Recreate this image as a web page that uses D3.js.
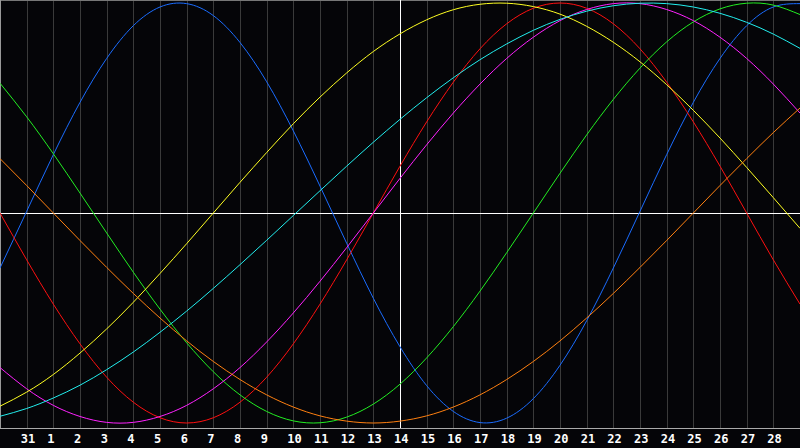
<!DOCTYPE html>
<head>
<meta charset="utf-8">
<title>Biorhythm</title>
<script src="https://cdnjs.cloudflare.com/ajax/libs/d3/7.8.5/d3.min.js"></script>
<style>
  body { margin:0; background:#050508; }
  svg { display:block; }
</style>
</head>
<body>
<script>
// day labels, one per column (first and last are not printed)
var days = ["30","31","1","2","3","4","5","6","7","8","9","10","11","12","13","14",
            "15","16","17","18","19","20","21","22","23","24","25","26","27","28","29"];
var todayIndex = 15;

// cycle values in percent for each day
var blue    = [-26.2,0.8,27.8,52.7,73.6,89.2,98.1,99.7,94.0,81.2,62.5,39.1,12.8,-14.4,-40.6,-63.7,-82.2,-94.5,-99.8,-97.7,-88.4,-72.5,-51.3,-26.2,0.8,27.8,52.7,73.6,89.2,98.1,99.7];
var red     = [0,-22.3,-43.4,-62.3,-78.2,-90.1,-97.5,-100,-97.5,-90.1,-78.2,-62.3,-43.4,-22.3,0,22.3,43.4,62.3,78.2,90.1,97.5,100,97.5,90.1,78.2,62.3,43.4,22.3,0,-22.3,-43.4];
var green   = [61.8,45.8,28.2,9.5,-9.5,-28.2,-45.8,-61.8,-75.6,-86.6,-94.5,-99.0,-99.9,-97.2,-91.0,-81.5,-69.0,-54.1,-37.2,-18.9,0,18.9,37.2,54.1,69.0,81.5,91.0,97.2,99.9,99.0,94.5];
var magenta = [-73.6,-83.7,-91.6,-96.9,-99.7,-99.7,-96.9,-91.6,-83.7,-73.6,-61.4,-47.6,-32.5,-16.5,0,16.5,32.5,47.6,61.4,73.6,83.7,91.6,96.9,99.7,99.7,96.9,91.6,83.7,73.6,61.4,47.6];
var yellow  = [-92.0,-85.3,-76.9,-66.7,-55.2,-42.5,-28.8,-14.6,0,14.6,28.8,42.5,55.2,66.7,76.9,85.3,92.0,96.8,99.4,99.9,98.3,94.7,88.9,81.3,72.0,61.1,48.9,35.7,21.7,7.3,-7.3];
var cyan    = [-96.8,-93.1,-88.1,-82.0,-74.6,-66.2,-56.8,-46.7,-35.9,-24.6,-13.0,-1.2,10.6,22.3,33.7,44.6,54.9,64.4,73.0,80.5,87.0,92.2,96.1,98.7,99.9,99.7,98.1,95.1,90.8,85.2,78.4];
var orange  = [25.9,13.1,0,-13.1,-25.9,-38.3,-50,-60.9,-70.7,-79.3,-86.6,-92.4,-96.6,-99.1,-100,-99.1,-96.6,-92.4,-86.6,-79.3,-70.7,-60.9,-50,-38.3,-25.9,-13.1,0,13.1,25.9,38.3,50];

var series = [
  {values: blue,    color: "#1a6cff"},
  {values: red,     color: "#ff1010"},
  {values: green,   color: "#22ee22"},
  {values: magenta, color: "#ff22ff"},
  {values: yellow,  color: "#ffff22"},
  {values: cyan,    color: "#22eeee"},
  {values: orange,  color: "#ff8010"}
];

var W = 800, H = 448;
var svg = d3.select("body").append("svg")
    .attr("width", W)
    .attr("height", H);

svg.append("rect").attr("width", W).attr("height", H).attr("fill", "#050508");

var x = d3.scaleLinear().domain([0, days.length - 1]).range([0, W]);
var y = d3.scaleLinear().domain([-100, 100]).range([423, 3]);

// vertical grid
svg.selectAll(".grid")
    .data(d3.range(1, days.length - 1))
  .enter().append("line")
    .attr("class", "grid")
    .attr("x1", function(d){ return Math.round(x(d)) + 0.5; })
    .attr("x2", function(d){ return Math.round(x(d)) + 0.5; })
    .attr("y1", 0).attr("y2", 428)
    .attr("stroke", "#3a3a3a")
    .attr("stroke-width", 1);

// frame: top, left, bottom
svg.append("line").attr("x1", 0).attr("x2", W).attr("y1", 0.5).attr("y2", 0.5).attr("stroke", "#777");
svg.append("line").attr("x1", 0.5).attr("x2", 0.5).attr("y1", 0).attr("y2", 428).attr("stroke", "#999");
svg.append("line").attr("x1", 0).attr("x2", W).attr("y1", 428.5).attr("y2", 428.5).attr("stroke", "#aaa");

// zero line and today marker
svg.append("line")
    .attr("x1", 0).attr("x2", W)
    .attr("y1", Math.round(y(0)) + 0.5).attr("y2", Math.round(y(0)) + 0.5)
    .attr("stroke", "#ffffff");
svg.append("line")
    .attr("x1", Math.round(x(todayIndex)) + 0.5).attr("x2", Math.round(x(todayIndex)) + 0.5)
    .attr("y1", 0).attr("y2", 428)
    .attr("stroke", "#ffffff");

var line = d3.line()
    .x(function(d, i){ return x(i); })
    .y(function(d){ return y(d); })
    .curve(d3.curveNatural);

svg.selectAll(".cycle")
    .data(series)
  .enter().append("path")
    .attr("class", "cycle")
    .attr("d", function(s){ return line(s.values); })
    .attr("fill", "none")
    .attr("stroke", function(s){ return s.color; })
    .attr("stroke-width", 1);

// day labels
svg.selectAll(".day")
    .data(d3.range(1, days.length - 1))
  .enter().append("text")
    .attr("class", "day")
    .attr("x", function(d){ return x(d) - 6; })
    .attr("y", 443)
    .attr("fill", "#ffffff")
    .style("font-family", "'DejaVu Sans Mono', monospace")
    .style("font-weight", "bold")
    .style("font-size", "12px")
    .text(function(d){ return days[d]; });
</script>
</body>
